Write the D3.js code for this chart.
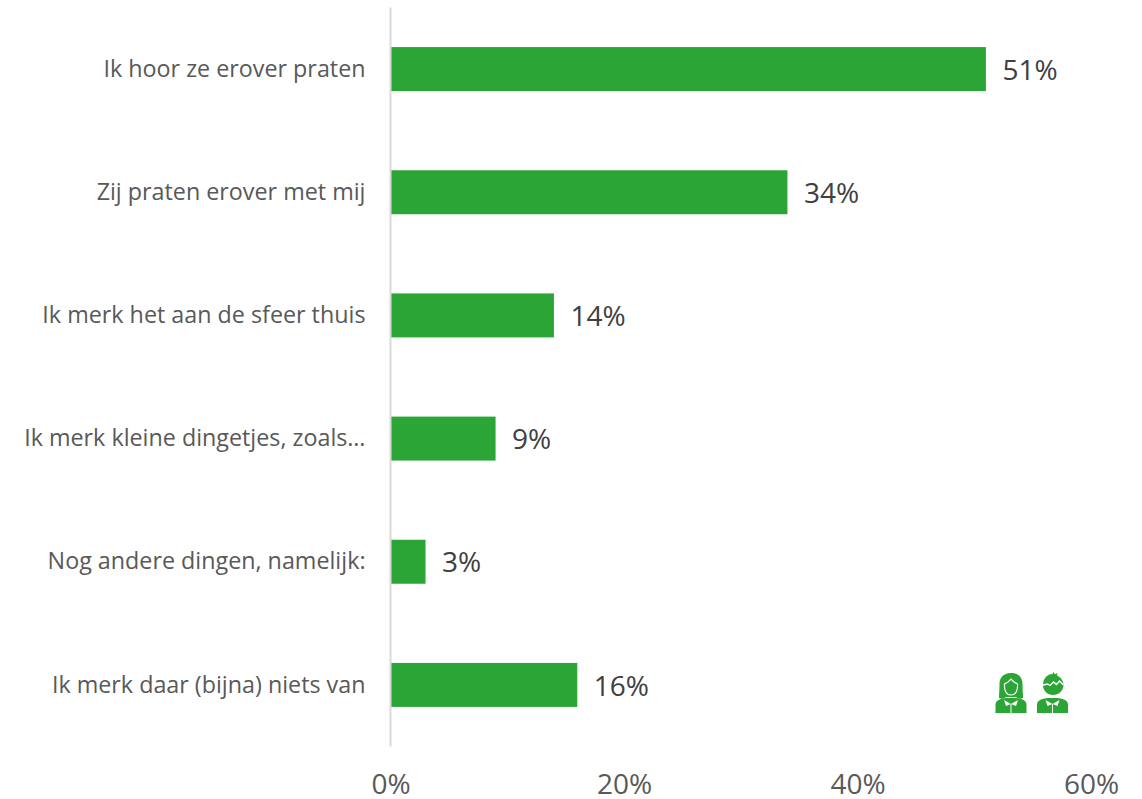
<!DOCTYPE html>
<html>
<head>
<meta charset="utf-8">
<script src="https://cdn.jsdelivr.net/npm/d3@7"></script>
<style>
  body { margin: 0; background: #fff; }
  text { font-family: "Open Sans", sans-serif; }
  .cat { font-size: 23.3px; fill: #595959; }
  .val { font-size: 28px; fill: #404040; }
  .tick text { font-size: 28px; fill: #595959; }
</style>
</head>
<body>
<div id="chart"></div>
<script>
var categories = [
  "Ik hoor ze erover praten",
  "Zij praten erover met mij",
  "Ik merk het aan de sfeer thuis",
  "Ik merk kleine dingetjes, zoals…",
  "Nog andere dingen, namelijk:",
  "Ik merk daar (bijna) niets van"
];
var values = [51, 34, 14, 9, 3, 16];
var xTicks = [0, 20, 40, 60];

var margin = {top: 7.5, left: 390.5};
var width = 700.5, height = 739;
var green = "#2ba636";

var svg = d3.select("#chart").append("svg")
    .attr("width", 1142)
    .attr("height", 799)
    .style("display", "block");

var chart = svg.append("g")
    .attr("transform", "translate(" + margin.left + "," + margin.top + ")");

var x = d3.scaleLinear().domain([0, 60]).range([0, width]);
var y = d3.scaleBand().domain(categories).range([0, height]).paddingInner(0.643).paddingOuter(0.3215);

// x axis, labels only
var xAxis = chart.append("g")
    .attr("transform", "translate(0," + height + ")")
    .call(d3.axisBottom(x).tickValues(xTicks).tickSize(0).tickPadding(28).tickFormat(function(d) { return d + "%"; }));
xAxis.select(".domain").remove();

// bars
chart.selectAll(".bar").data(values)
    .enter().append("rect")
    .attr("class", "bar")
    .attr("fill", green)
    .attr("x", 0)
    .attr("y", function(d, i) { return y(categories[i]); })
    .attr("width", function(d) { return x(d); })
    .attr("height", y.bandwidth());

// vertical axis line goes over the bar edge
chart.append("line")
    .attr("x1", 0).attr("x2", 0)
    .attr("y1", 0).attr("y2", height)
    .attr("stroke", "#d9d9d9")
    .attr("stroke-width", 2);

chart.selectAll(".cat").data(categories)
    .enter().append("text")
    .attr("class", "cat")
    .attr("x", -25)
    .attr("y", function(d) { return y(d) + y.bandwidth() / 2; })
    .attr("dy", "0.33em")
    .attr("text-anchor", "end")
    .text(function(d) { return d; });

chart.selectAll(".val").data(values)
    .enter().append("text")
    .attr("class", "val")
    .attr("x", function(d) { return x(d) + 16.5; })
    .attr("y", function(d, i) { return y(categories[i]) + y.bandwidth() / 2; })
    .attr("dy", "0.38em")
    .text(function(d) { return d + "%"; });

// little girl and boy icons
function drawBody(g) {
    g.append("path").attr("fill", green)
        .attr("d", "M-15.5,12 V3 Q-15,-2 -5,-3 H5 Q15,-2 15.5,3 V12 Z");
    g.append("path").attr("fill", "#fff")
        .attr("d", "M0,3 L-7,-1 L-5,5 Z M0,3 L7,-1 L5,5 Z");
    g.append("line").attr("stroke", "#fff").attr("stroke-width", 1)
        .attr("x1", 0).attr("x2", 0).attr("y1", 3).attr("y2", 12);
}

var girl = svg.append("g").attr("transform", "translate(1011,701)");
drawBody(girl);
girl.append("path").attr("fill", green)
    .attr("d", "M0,-28 C-8,-28 -11.5,-23 -11.5,-17 C-11.5,-11 -12,-8 -12,-3 C-9,-1.5 -7,-2.5 -5,-4 L5,-4 C7,-2.5 9,-1.5 12,-3 C12,-8 11.5,-11 11.5,-17 C11.5,-23 8,-28 0,-28 Z");
girl.append("path").attr("fill", green).attr("stroke", "#fff").attr("stroke-width", 1.2)
    .attr("d", "M-6.5,-17 L-3,-19 L0,-22 L3,-19 L6.5,-17 C7,-11 5,-6 0,-6 C-5,-6 -7,-11 -6.5,-17 Z");

var boy = svg.append("g").attr("transform", "translate(1052.5,701)");
drawBody(boy);
boy.append("path").attr("fill", green)
    .attr("d", "M-9.5,-16 C-9.5,-23 -5,-27 0,-27 L1,-29 L2.5,-26.8 L5,-28 L4.5,-25.5 C8.5,-23.5 11,-20 11,-16 C11,-10 6,-6 0.5,-6 C-5,-6 -9.5,-10 -9.5,-16 Z");
boy.append("path").attr("fill", "none").attr("stroke", "#fff").attr("stroke-width", 1.3)
    .attr("d", "M-9.5,-16 L-5,-17 L-2.5,-15.5 L1,-19 L4,-16.5 L7,-20 L11,-16");
</script>
</body>
</html>
